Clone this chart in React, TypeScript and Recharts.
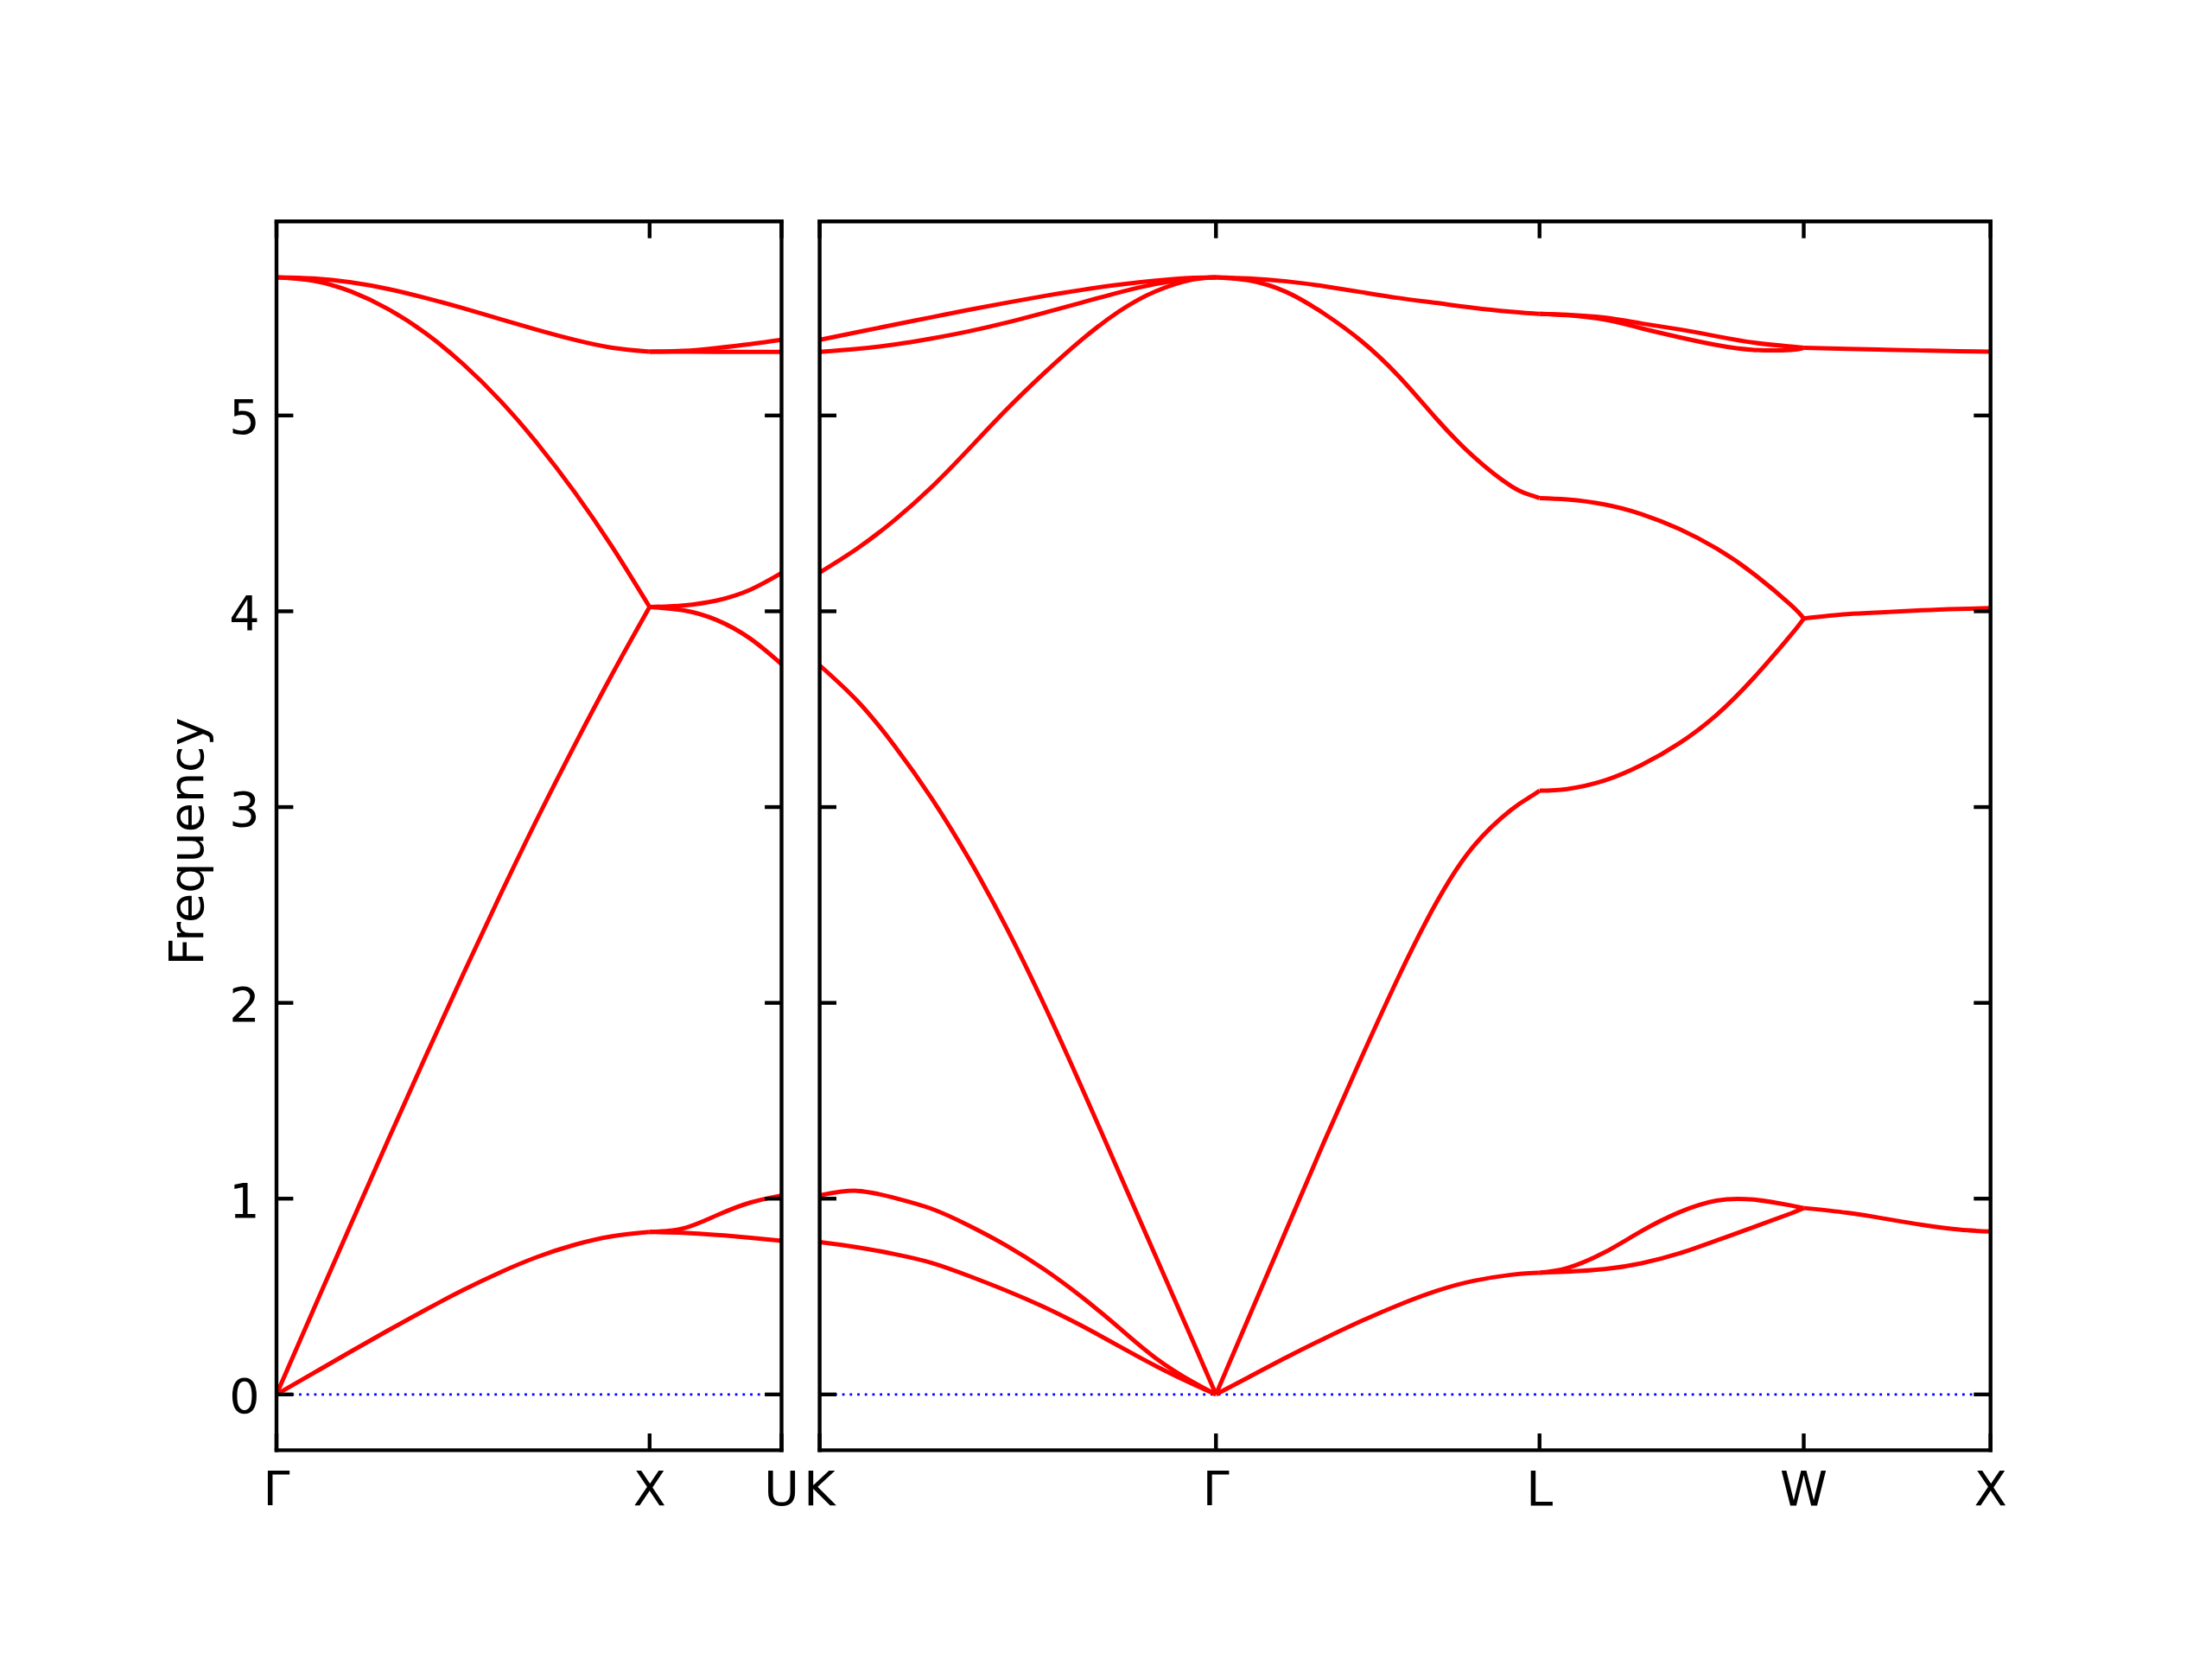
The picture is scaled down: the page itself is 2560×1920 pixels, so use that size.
import React from 'react'
import { LineChart, Line, XAxis, YAxis, ReferenceLine } from 'recharts'

// figure geometry, px (6.4 x 4.8 in @ 400 dpi look)
const FIG_H = 1920
const PLOT_TOP = 256.3
const PLOT_BOTTOM = 1678.4
const FONT = 'DejaVu Sans'
const FS = 55.6
const TICK_LEN = 19.4
const SPINE = 4.4
const RED = '#ff0000'

const freqDomain: [number, number] = [-0.285, 5.991]
const freqTicks = [0, 1, 2, 3, 4, 5]

const leftPathTicks = [0, 1, 1.3536]
const leftPathLabels = ['Γ', 'X', 'U']
const rightPathTicks = [0, 1.0607, 1.9267, 2.6338, 3.1338]
const rightPathLabels = ['K', 'Γ', 'L', 'W', 'X']

// Γ – X
const qGX = [0, 0.1, 0.2, 0.3, 0.4, 0.5, 0.6, 0.7, 0.8, 0.9, 1.0]
const gxTA = [0, 0.11, 0.22, 0.328, 0.433, 0.533, 0.624, 0.703, 0.765, 0.808, 0.83]
const gxLA = [0, 0.437, 0.872, 1.303, 1.728, 2.145, 2.552, 2.945, 3.32, 3.68, 4.022]
const gxLO = [5.706, 5.688, 5.633, 5.543, 5.42, 5.263, 5.075, 4.855, 4.606, 4.328, 4.022]
const gxTO = [5.706, 5.7, 5.68, 5.646, 5.6, 5.548, 5.492, 5.437, 5.386, 5.346, 5.326]

// X – U
const qXU = [1.0, 1.09, 1.18, 1.27, 1.3536]
const xuTA1 = [0.83, 0.826, 0.815, 0.8, 0.785]
const xuTA2 = [0.83, 0.848, 0.915, 0.98, 1.016]
const xuA = [4.022, 4.005, 3.955, 3.86, 3.73]
const xuO = [4.022, 4.03, 4.055, 4.11, 4.195]
const xuTO1 = [5.326, 5.326, 5.325, 5.325, 5.325]
const xuTO2 = [5.326, 5.33, 5.345, 5.365, 5.387]

// K – Γ
const qKG = [0, 0.1, 0.2, 0.3, 0.4, 0.5, 0.6, 0.7, 0.8, 0.9, 1.0, 1.0607]
const kgTA1 = [0.778, 0.752, 0.717, 0.672, 0.605, 0.53, 0.447, 0.352, 0.248, 0.145, 0.052, 0]
const kgTA2 = [1.017, 1.04, 1.004, 0.948, 0.862, 0.76, 0.64, 0.5, 0.343, 0.185, 0.062, 0]
const kgLA = [3.724, 3.544, 3.314, 3.044, 2.734, 2.384, 1.994, 1.574, 1.139, 0.703, 0.267, 0]
const kgLO = [4.198, 4.32, 4.465, 4.635, 4.83, 5.03, 5.215, 5.385, 5.53, 5.635, 5.695, 5.706]
const kgTO1 = [5.325, 5.34, 5.362, 5.393, 5.43, 5.474, 5.524, 5.576, 5.628, 5.672, 5.7, 5.706]
const kgTO2 = [5.386, 5.425, 5.464, 5.502, 5.54, 5.576, 5.61, 5.641, 5.668, 5.689, 5.703, 5.706]

// Γ – L
const qGL = [1.0607, 1.15, 1.25, 1.35, 1.45, 1.55, 1.65, 1.75, 1.85, 1.9, 1.9267]
const glTA = [0, 0.09, 0.19, 0.285, 0.375, 0.457, 0.528, 0.58, 0.611, 0.619, 0.622]
const glLA = [0, 0.4, 0.845, 1.29, 1.72, 2.135, 2.51, 2.8, 2.985, 3.05, 3.084]
const glLO = [5.706, 5.69, 5.63, 5.52, 5.38, 5.2, 4.985, 4.79, 4.64, 4.595, 4.578]
const glTO = [5.706, 5.7, 5.685, 5.66, 5.63, 5.6, 5.575, 5.55, 5.53, 5.522, 5.519]

// L – W
const qLW = [1.9267, 2.0, 2.1, 2.2, 2.3, 2.4, 2.5, 2.6, 2.6338]
const lwTA1 = [0.622, 0.627, 0.64, 0.67, 0.72, 0.786, 0.855, 0.925, 0.952]
const lwTA2 = [0.622, 0.645, 0.725, 0.835, 0.93, 0.99, 0.995, 0.965, 0.952]
const lwLA = [3.084, 3.092, 3.135, 3.215, 3.325, 3.47, 3.66, 3.88, 3.963]
const lwLO = [4.578, 4.571, 4.546, 4.496, 4.421, 4.321, 4.191, 4.031, 3.963]
const lwTO1 = [5.519, 5.512, 5.49, 5.445, 5.4, 5.36, 5.335, 5.335, 5.346]
const lwTO2 = [5.519, 5.515, 5.5, 5.47, 5.44, 5.405, 5.372, 5.352, 5.346]

// W – X
const qWX = [2.6338, 2.75, 2.85, 2.95, 3.05, 3.1338]
const wxTA = [0.952, 0.928, 0.898, 0.866, 0.842, 0.832]
const wxLA = [3.963, 3.985, 3.995, 4.005, 4.012, 4.016]
const wxTO = [5.346, 5.34, 5.336, 5.332, 5.328, 5.326]

function zip(q: number[], f: number[]) {
  return q.map((x, i) => ({ q: x, f: f[i] }))
}

const leftBands = [
  zip(qGX, gxTA), zip(qGX, gxLA), zip(qGX, gxLO), zip(qGX, gxTO),
  zip(qXU, xuTA1), zip(qXU, xuTA2), zip(qXU, xuA), zip(qXU, xuO), zip(qXU, xuTO1), zip(qXU, xuTO2),
]

const rightBands = [
  zip(qKG, kgTA1), zip(qKG, kgTA2), zip(qKG, kgLA), zip(qKG, kgLO), zip(qKG, kgTO1), zip(qKG, kgTO2),
  zip(qGL, glTA), zip(qGL, glLA), zip(qGL, glLO), zip(qGL, glTO),
  zip(qLW, lwTA1), zip(qLW, lwTA2), zip(qLW, lwLA), zip(qLW, lwLO), zip(qLW, lwTO1), zip(qLW, lwTO2),
  zip(qWX, wxTA), zip(qWX, wxLA), zip(qWX, wxTO),
]

const spine = { stroke: '#000', strokeWidth: SPINE, strokeLinecap: 'square' as const }

function YTick(props: any) {
  const { x = 0, y = 0, payload, side, showLabel } = props
  const dir = side === 'left' ? 1 : -1
  return (
    <g>
      <line x1={x} y1={y} x2={x + dir * TICK_LEN} y2={y} stroke="#000" strokeWidth={SPINE} />
      {showLabel && (
        <text x={x - TICK_LEN} y={y + 21.5} textAnchor="end" fontFamily={FONT} fontSize={FS} fill="#000">
          {payload?.value}
        </text>
      )}
    </g>
  )
}

function XTick(props: any) {
  const { x = 0, y = 0, index = 0, top, labels } = props
  const dir = top ? 1 : -1
  return (
    <g>
      <line x1={x} y1={y} x2={x} y2={y + dir * TICK_LEN} stroke="#000" strokeWidth={SPINE} />
      {labels && (
        <text x={x} y={y + 63.6} textAnchor="middle" fontFamily={FONT} fontSize={FS} fill="#000">
          {labels[index]}
        </text>
      )}
    </g>
  )
}

function FreqLabel() {
  return (
    <text
      x={235}
      y={974}
      transform="rotate(-90 235 974)"
      textAnchor="middle"
      fontFamily={FONT}
      fontSize={FS}
      fill="#000"
    >
      Frequency
    </text>
  )
}

interface PanelProps {
  left: number
  width: number
  plotLeft: number
  plotRight: number
  qMax: number
  ticks: number[]
  labels: string[]
  bands: { q: number; f: number }[][]
  yLabels?: boolean
}

function Panel({ left, width, plotLeft, plotRight, qMax, ticks, labels, bands, yLabels }: PanelProps) {
  const marginRight = width - plotRight - 1
  return (
    <div style={{ position: 'absolute', left, top: 0 }}>
      <LineChart
        width={width}
        height={FIG_H}
        margin={{ top: PLOT_TOP - 1, right: marginRight, bottom: 0, left: 0 }}
      >
        <XAxis
          xAxisId="top"
          orientation="top"
          type="number"
          dataKey="q"
          domain={[0, qMax]}
          ticks={ticks}
          interval={0}
          height={1}
          tickSize={0}
          tickMargin={0}
          tickLine={false}
          axisLine={spine}
          tick={<XTick top />}
          allowDataOverflow
        />
        <XAxis
          type="number"
          dataKey="q"
          domain={[0, qMax]}
          ticks={ticks}
          interval={0}
          height={FIG_H - PLOT_BOTTOM}
          tickSize={0}
          tickMargin={0}
          tickLine={false}
          axisLine={spine}
          tick={<XTick labels={labels} />}
          allowDataOverflow
        />
        <YAxis
          type="number"
          domain={freqDomain}
          ticks={freqTicks}
          interval={0}
          width={plotLeft}
          tickSize={0}
          tickMargin={0}
          tickLine={false}
          axisLine={spine}
          tick={<YTick side="left" showLabel={yLabels} />}
          label={yLabels ? <FreqLabel /> : undefined}
          allowDataOverflow
        />
        <YAxis
          yAxisId="right"
          orientation="right"
          type="number"
          domain={freqDomain}
          ticks={freqTicks}
          interval={0}
          width={1}
          tickSize={0}
          tickMargin={0}
          tickLine={false}
          axisLine={spine}
          tick={<YTick side="right" />}
          allowDataOverflow
        />
        <ReferenceLine y={0} stroke="#0000ff" strokeWidth={2.8} strokeDasharray="2.8 5.9" />
        {bands.map((d, i) => (
          <Line
            key={i}
            data={d}
            dataKey="f"
            type="natural"
            stroke={RED}
            strokeWidth={5}
            dot={false}
            activeDot={false}
            isAnimationActive={false}
          />
        ))}
      </LineChart>
    </div>
  )
}

export default function App() {
  return (
    <div style={{ position: 'absolute', left: 0, top: 0, width: 2560, height: 1920, background: '#fff' }}>
      <Panel
        left={0}
        width={1000}
        plotLeft={320}
        plotRight={904.5}
        qMax={1.3536}
        ticks={leftPathTicks}
        labels={leftPathLabels}
        bands={leftBands}
        yLabels
      />
      <Panel
        left={905}
        width={1655}
        plotLeft={43.6}
        plotRight={1398.7}
        qMax={3.1338}
        ticks={rightPathTicks}
        labels={rightPathLabels}
        bands={rightBands}
      />
    </div>
  )
}
